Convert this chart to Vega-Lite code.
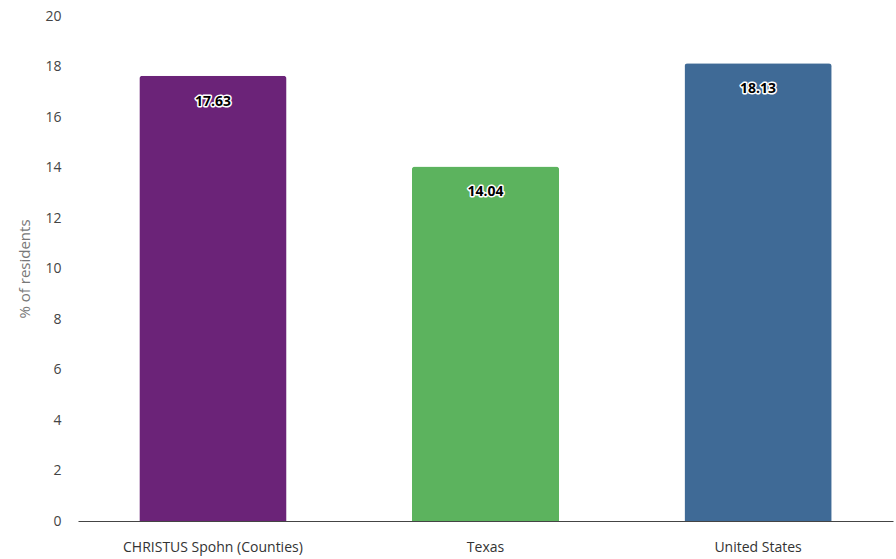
{
  "$schema": "https://vega.github.io/schema/vega-lite/v6.json",
  "width": 815,
  "height": 505,
  "autosize": "none",
  "padding": {"left": 78, "top": 16, "right": 3, "bottom": 38},
  "background": "white",
  "config": {"view": {"stroke": null}, "font": "Open Sans"},
  "data": {"values": [
    {"region": "CHRISTUS Spohn (Counties)", "value": 17.63},
    {"region": "Texas", "value": 14.04},
    {"region": "United States", "value": 18.13}
  ]},
  "encoding": {
    "x": {"field": "region", "type": "nominal", "sort": null,
      "scale": {"paddingInner": 0.46, "paddingOuter": 0.225},
      "axis": {"title": null, "labelAngle": 0, "ticks": false, "labelPadding": 19, "labelFontSize": 14, "labelColor": "#333", "domainColor": "#444", "domainWidth": 1.2, "labelFont": "Open Sans"}},
    "y": {"field": "value", "type": "quantitative",
      "scale": {"domain": [0, 20], "nice": false},
      "axis": {"title": "% of residents", "values": [0,2,4,6,8,10,12,14,16,18,20], "labelOverlap": false, "grid": false, "domain": false, "ticks": false, "labelPadding": 17, "labelFontSize": 14, "labelColor": "#444", "titleColor": "#777", "titleFontSize": 15, "titleFontWeight": "normal", "titlePadding": 12, "labelFont": "Open Sans", "titleFont": "Open Sans"}}
  },
  "layer": [
    {"mark": {"type": "bar", "cornerRadiusTopLeft": 3, "cornerRadiusTopRight": 3},
     "encoding": {"color": {"field": "region", "type": "nominal", "legend": null,
        "scale": {"domain": ["CHRISTUS Spohn (Counties)", "Texas", "United States"], "range": ["#6b2378", "#5cb35e", "#3f6a96"]}}}},
    {"mark": {"type": "text", "dy": 26, "baseline": "middle", "fontSize": 14, "fontWeight": "bold", "font": "Open Sans", "stroke": "white", "strokeWidth": 3, "strokeJoin": "round", "fill": "white"},
     "encoding": {"text": {"field": "value", "type": "quantitative", "format": ".2f"}}},
    {"mark": {"type": "text", "dy": 26, "baseline": "middle", "fontSize": 14, "fontWeight": "bold", "font": "Open Sans", "fill": "black"},
     "encoding": {"text": {"field": "value", "type": "quantitative", "format": ".2f"}}}
  ]
}
